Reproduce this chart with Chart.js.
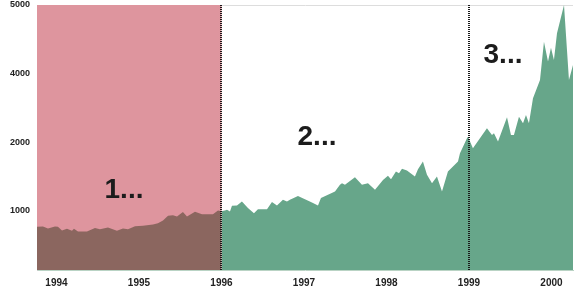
<!DOCTYPE html>
<html>
<head>
<meta charset="utf-8">
<script src="https://cdn.jsdelivr.net/npm/chart.js@4/dist/chart.umd.min.js"></script>
<style>
  html, body { margin: 0; padding: 0; background: #ffffff; }
  #wrap { width: 576px; height: 301px; }
</style>
</head>
<body>
<div id="wrap"><canvas id="c" width="576" height="301"></canvas></div>
<script>
// ---- data ----
const years = [
  1993.764, 1993.836, 1993.897, 1993.982, 1994.018, 1994.067, 1994.127, 1994.188, 1994.212, 1994.261,
  1994.370, 1994.467, 1994.527, 1994.624, 1994.733, 1994.806, 1994.867, 1994.952, 1995.048, 1995.170,
  1995.230, 1995.291, 1995.352, 1995.412, 1995.461, 1995.533, 1995.582, 1995.679, 1995.764, 1995.897,
  1995.958, 1996.000, 1996.042, 1996.067, 1996.103, 1996.127, 1996.188, 1996.248, 1996.321, 1996.394,
  1996.442, 1996.552, 1996.612, 1996.673, 1996.745, 1996.794, 1996.830, 1996.927, 1997.012, 1997.097,
  1997.170, 1997.206, 1997.291, 1997.376, 1997.436, 1997.461, 1997.497, 1997.618, 1997.703, 1997.776,
  1997.861, 1997.958, 1998.018, 1998.055, 1998.115, 1998.152, 1998.188, 1998.248, 1998.309, 1998.345,
  1998.382, 1998.442, 1998.491, 1998.552, 1998.612, 1998.673, 1998.745, 1998.867, 1998.891, 1998.976,
  1998.988, 1999.048, 1999.218, 1999.279, 1999.303, 1999.352, 1999.461, 1999.509, 1999.545, 1999.606,
  1999.655, 1999.691, 1999.727, 1999.776, 1999.861, 1999.909, 1999.958, 1999.994, 2000.030, 2000.067,
  2000.152, 2000.212, 2000.261
];
const values = [
  851, 854, 836, 854, 851, 820, 834, 817, 834, 812,
  812, 840, 831, 845, 817, 836, 831, 855, 860, 871,
  882, 907, 951, 956, 944, 987, 944, 990, 967, 967,
  1003, 995, 1003, 1010, 993, 1052, 1055, 1098, 1028, 977,
  1017, 1017, 1092, 1055, 1117, 1098, 1117, 1163, 1125, 1087,
  1055, 1137, 1175, 1215, 1300, 1322, 1300, 1405, 1300, 1322,
  1236, 1367, 1424, 1377, 1487, 1463, 1528, 1502, 1448, 1414,
  1523, 1645, 1438, 1322, 1414, 1215, 1487, 1645, 1790, 2082,
  2116, 1882, 2303, 2153, 2190, 2012, 2574, 2153, 2153, 2589,
  2423, 2634, 2423, 3117, 3750, 4438, 4159, 4352, 4182, 4561,
  5000, 3750, 4115
];
const xTickYears = [1994, 1995, 1996, 1997, 1998, 1999, 2000];
const yTickValues = [1000, 2000, 4000, 5000];
const splitYear = 1996;
const markerYears = [1996, 1999];
const noteLabels = ['1...', '2...', '3...'];

// ---- custom value axis: equal spacing between the labelled values ----
class StretchLogScale extends Chart.LinearScale {
  _unit(v) {
    const a = yTickValues;
    const n = a.length;
    let i = 0;
    if (v <= a[0]) i = 0;
    else if (v >= a[n - 1]) i = n - 2;
    else { while (i < n - 2 && v > a[i + 1]) i++; }
    return i + Math.log(v / a[i]) / Math.log(a[i + 1] / a[i]);
  }
  _value(u) {
    const a = yTickValues;
    const n = a.length;
    let i = Math.floor(u);
    if (i < 0) i = 0;
    if (i > n - 2) i = n - 2;
    return a[i] * Math.pow(a[i + 1] / a[i], u - i);
  }
  buildTicks() {
    return yTickValues.map(v => ({ value: v }));
  }
  getPixelForValue(v) {
    const u0 = this._unit(this.min), u1 = this._unit(this.max);
    return this.getPixelForDecimal((this._unit(v) - u0) / (u1 - u0));
  }
  getValueForPixel(p) {
    const u0 = this._unit(this.min), u1 = this._unit(this.max);
    return this._value(u0 + this.getDecimalForPixel(p) * (u1 - u0));
  }
}
StretchLogScale.id = 'stretchlog';
StretchLogScale.defaults = Chart.LinearScale.defaults;
Chart.register(StretchLogScale);

const GREEN = '#67a68a';
const BROWN = '#8b665f';
const PINK = '#de959e';

const decorations = {
  id: 'decorations',
  beforeDatasetsDraw(chart) {
    const { ctx, chartArea, scales } = chart;
    const xs = scales.x.getPixelForValue(splitYear);
    ctx.save();
    ctx.fillStyle = PINK;
    ctx.fillRect(chartArea.left, chartArea.top, xs - chartArea.left, chartArea.bottom - chartArea.top);
    ctx.restore();
  },
  afterDatasetsDraw(chart) {
    const { ctx, chartArea, scales } = chart;
    ctx.save();
    ctx.strokeStyle = '#1a1a1a';
    ctx.lineWidth = 2;
    ctx.setLineDash([1, 1]);
    markerYears.forEach(yr => {
      const x = Math.round(scales.x.getPixelForValue(yr));
      ctx.beginPath();
      ctx.moveTo(x, chartArea.top);
      ctx.lineTo(x, chartArea.bottom);
      ctx.stroke();
    });
    ctx.setLineDash([]);
    ctx.fillStyle = '#1c1c1c';
    ctx.font = 'bold 28px "Liberation Sans", Arial, sans-serif';
    ctx.textAlign = 'center';
    ctx.textBaseline = 'alphabetic';
    const pos = [[124, 198], [317, 145], [503, 63]];
    noteLabels.forEach((t, i) => ctx.fillText(t, pos[i][0], pos[i][1]));
    ctx.restore();
  }
};

new Chart(document.getElementById('c'), {
  type: 'line',
  data: {
    datasets: [{
      data: years.map((x, i) => ({ x: x, y: values[i] })),
      fill: 'start',
      backgroundColor: GREEN,
      borderWidth: 0,
      borderColor: 'rgba(0,0,0,0)',
      pointRadius: 0,
      tension: 0,
      segment: {
        backgroundColor: c => (c.p1.parsed.x <= splitYear ? BROWN : GREEN)
      }
    }]
  },
  options: {
    responsive: false,
    animation: false,
    events: [],
    layout: { padding: { top: 5, right: 3, left: 0, bottom: 0 } },
    plugins: { legend: { display: false }, tooltip: { enabled: false } },
    scales: {
      x: {
        type: 'linear',
        min: 1993.764,
        max: 2000.261,
        afterBuildTicks: s => { s.ticks = xTickYears.map(v => ({ value: v })); },
        afterFit: s => { s.height = 31; s.paddingLeft = 0; s.paddingRight = 0; },
        grid: { display: false, drawTicks: false },
        border: { display: true, color: '#b9d3c4', width: 1 },
        ticks: {
          autoSkip: false, maxRotation: 0, padding: 7,
          color: '#222', font: { family: '"Liberation Sans", Arial, sans-serif', size: 10, weight: 'bold' },
          callback: v => String(v)
        }
      },
      y: {
        type: 'stretchlog',
        min: 550,
        max: 5000,
        afterFit: s => { s.width = 37; s.paddingTop = 0; s.paddingBottom = 0; },
        grid: {
          drawTicks: false,
          color: c => (c.tick && c.tick.value === 5000 ? '#dddddd' : 'rgba(0,0,0,0)'),
          lineWidth: 1
        },
        border: { display: true, color: '#cccccc', width: 1 },
        ticks: {
          autoSkip: false, padding: 7,
          color: '#222', font: { family: '"Liberation Sans", Arial, sans-serif', size: 9, weight: 'bold' },
          callback: v => String(v)
        }
      }
    }
  },
  plugins: [decorations]
});
</script>
</body>
</html>
